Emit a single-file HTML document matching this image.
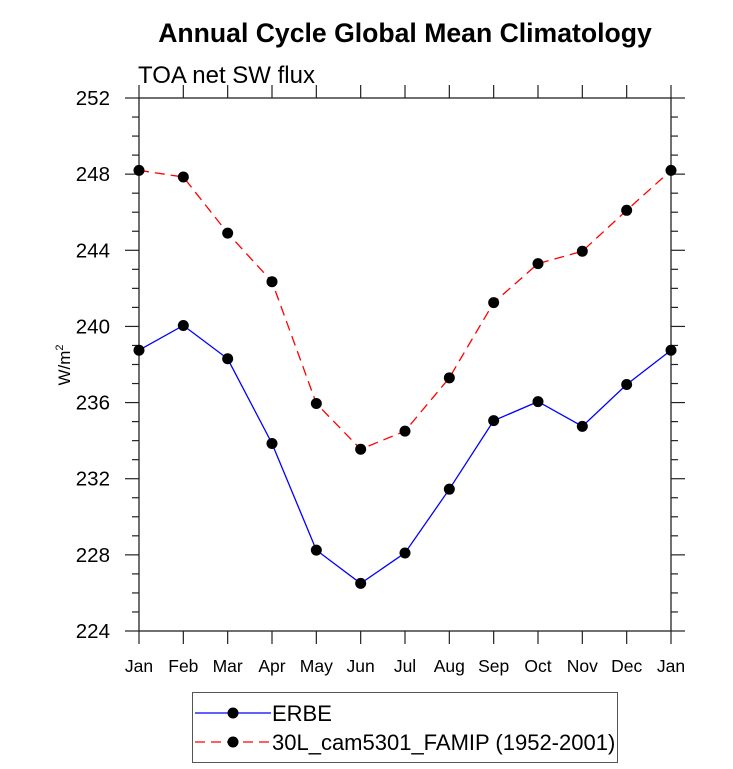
<!DOCTYPE html>
<html><head><meta charset="utf-8"><style>
html,body{margin:0;padding:0;background:#fff;}
svg{display:block;font-family:"Liberation Sans",Arial,sans-serif;}
</style></head><body>
<svg id="chart" width="733" height="769" viewBox="0 0 733 769">
<text x="405" y="42" text-anchor="middle" font-size="26.6" font-weight="bold">Annual Cycle Global Mean Climatology</text>
<text x="138" y="83" font-size="24">TOA net SW flux</text>
<text transform="translate(70,365) rotate(-90)" text-anchor="middle" font-size="17">W/m<tspan font-size="11" dy="-7">2</tspan></text>
<g id="axes"></g>
<g id="series"></g>
<g id="legend">
<rect x="192.5" y="692.5" width="425" height="70" fill="#fff" stroke="#555" stroke-width="1"/>
<g>
<line x1="195" y1="713" x2="271" y2="713" stroke="#0000ff" stroke-width="1.3"/>
<circle cx="233" cy="713" r="5.5" fill="#000"/>
<text x="272" y="721" font-size="22">ERBE</text></g>
<g>
<line x1="195" y1="742" x2="271" y2="742" stroke="#ff0000" stroke-width="1.3" stroke-dasharray="10,6"/>
<circle cx="233" cy="742" r="5.5" fill="#000"/>
<text x="272" y="750" font-size="22">30L_cam5301_FAMIP (1952-2001)</text></g>
</g>
</svg>
<script>
const months = ["Jan","Feb","Mar","Apr","May","Jun","Jul","Aug","Sep","Oct","Nov","Dec","Jan"];
const erbe = [238.75,240.05,238.3,233.85,228.25,226.5,228.1,231.45,235.05,236.05,234.75,236.95,238.75];
const model = [248.2,247.85,244.9,242.35,235.95,233.55,234.5,237.3,241.25,243.3,243.95,246.1,248.2];
const yTicks = [224,228,232,236,240,244,248,252];
const yMin = 224, yMax = 252;
const L=139, R=671, T=98, B=631;
const NS="http://www.w3.org/2000/svg";
function xs(i){return L+(R-L)*i/(months.length-1);}
function ys(v){return B-(B-T)*(v-yMin)/(yMax-yMin);}
function mk(tag,attrs,parent){const e=document.createElementNS(NS,tag);for(const k in attrs)e.setAttribute(k,attrs[k]);parent.appendChild(e);return e;}
const ax=document.getElementById('axes');
const frame=mk('rect',{x:L,y:T,width:R-L,height:B-T,fill:'none',stroke:'#222','stroke-width':1.3},ax);


for(let v=yMin;v<=yMax;v++){
  const y=ys(v), major=(v-yMin)%4===0, len=major?14:7;
  mk('line',{x1:L-len,y1:y,x2:L,y2:y,stroke:'#222','stroke-width':1.2},ax);
  mk('line',{x1:R,y1:y,x2:R+len,y2:y,stroke:'#222','stroke-width':1.2},ax);
}
yTicks.forEach(v=>{
  const t=mk('text',{x:110,y:ys(v)+7,'text-anchor':'end','font-size':20.5},ax);
  t.textContent=v;
  
  
});
months.forEach((m,i)=>{
  const x=xs(i);
  mk('line',{x1:x,y1:B,x2:x,y2:B+13,stroke:'#222','stroke-width':1.2},ax);
  mk('line',{x1:x,y1:T-13,x2:x,y2:T,stroke:'#222','stroke-width':1.2},ax);
  const t=mk('text',{x:x,y:672,'text-anchor':'middle','font-size':17.5},ax);
  t.textContent=m;
  
  
});
const sg=document.getElementById('series');
function drawSeries(vals,color,dash,name){
  const g=mk('g',{},sg);
  
  
  const pts=vals.map((v,i)=>xs(i)+','+ys(v)).join(' ');
  const a={points:pts,fill:'none',stroke:color,'stroke-width':1.3};
  if(dash)a['stroke-dasharray']=dash;
  mk('polyline',a,g);
  vals.forEach((v,i)=>{
    const c=mk('circle',{cx:xs(i),cy:ys(v),r:5.5,fill:'#000'},g);
    
    
  });
}
drawSeries(erbe,'#0000ff',null,'erbe-series');
drawSeries(model,'#ff0000','10,6','model-series');
</script>
</body></html>
